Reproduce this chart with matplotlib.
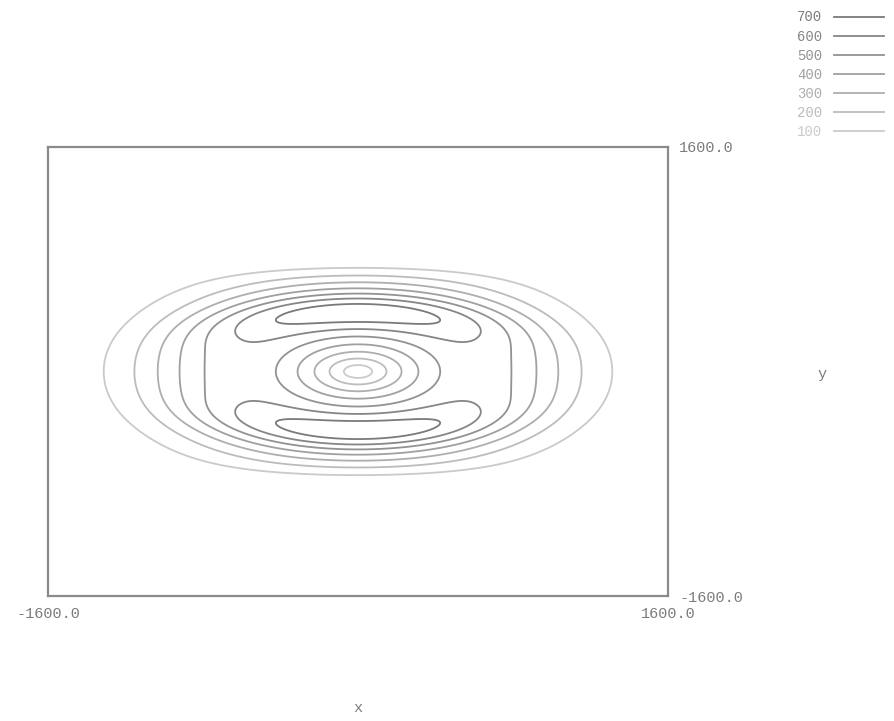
import numpy as np
import matplotlib.pyplot as plt
from matplotlib.lines import Line2D

# niveis de contorno e cores (cinza: 100 mais claro, 700 mais escuro)
niveis = [100, 200, 300, 400, 500, 600, 700]
cores = ['#cacaca', '#bcbcbc', '#aeaeae', '#a0a0a0', '#929292', '#868686', '#7a7a7a']

# limites dos eixos
x_min, x_max = -1600.0, 1600.0
y_min, y_max = -1600.0, 1600.0

# parametros do campo, estimados a partir da figura
pico_anel = 565.0          # valor maximo do anel no eixo x
raio_anel = 604.0          # raio (em x) do maximo do anel
forma_anel = 2.6
achatamento = 1.593        # razao y/x da elipse do anel
ganho_faixa = 0.40         # reforco relativo nas faixas de cima e de baixo
achatamento_faixa = 2.317
raio_faixa = 1024.0
largura_faixa = 297.0
corte_y = 770.0
expoente_corte = 12.0

xs = np.linspace(x_min, x_max, 641)
ys = np.linspace(y_min, y_max, 641)
X, Y = np.meshgrid(xs, ys)

rho = np.sqrt(X ** 2 + (achatamento * Y) ** 2)
u = rho / raio_anel
anel = pico_anel * u * np.exp((1 - u ** forma_anel) / forma_anel)

rho_f = np.sqrt(X ** 2 + (achatamento_faixa * Y) ** 2) + 1e-9
seno2 = (achatamento_faixa * Y / rho_f) ** 2
faixa = 1 + ganho_faixa * seno2 * np.exp(-((rho_f - raio_faixa) / largura_faixa) ** 2)

corte = np.exp(-np.abs(Y / corte_y) ** expoente_corte)
Z = anel * faixa * corte

fonte = 'Liberation Mono'
cor_texto = '#7c7c7c'

fig = plt.figure(figsize=(8.94, 7.21), dpi=100)
ax = fig.add_axes([48 / 894, 125 / 721, 620 / 894, 449 / 721])
ax.contour(X, Y, Z, levels=niveis, colors=cores, linewidths=1.3)
ax.set_xlim(x_min, x_max)
ax.set_ylim(y_min, y_max)

for lado in ax.spines.values():
    lado.set_color('#8a8a8a')
    lado.set_linewidth(1.6)

ax.set_xticks([x_min, x_max])
ax.set_xticklabels([f'{x_min:.1f}', f'{x_max:.1f}'])
ax.yaxis.tick_right()
ax.set_yticks([y_min, y_max])
ax.set_yticklabels([f'{y_min:.1f}', f'{y_max:.1f}'])
ax.tick_params(length=0, labelsize=11, labelcolor=cor_texto, pad=8)
for t in ax.get_xticklabels() + ax.get_yticklabels():
    t.set_fontfamily(fonte)

ax.set_xlabel('x', fontfamily=fonte, fontsize=11, color=cor_texto, va='center')
ax.xaxis.set_label_coords(0.5, -0.249)
ax.yaxis.set_label_position('right')
ax.set_ylabel('y', fontfamily=fonte, fontsize=11, color=cor_texto, rotation=0,
              va='center', ha='center')
ax.yaxis.set_label_coords(1.248, 0.495)

# legenda: texto a esquerda, linha a direita
alcas = [Line2D([0], [0], color=c, lw=1.3) for c in cores[::-1]]
rotulos = [str(n) for n in niveis[::-1]]
leg = fig.legend(alcas, rotulos, loc='upper right', bbox_to_anchor=(1.0, 1.0),
                 frameon=False, markerfirst=False, handlelength=3.6,
                 prop={'family': fonte, 'size': 10}, labelspacing=0.37,
                 borderaxespad=0.35, handletextpad=0.8)
for txt, c in zip(leg.get_texts(), cores[::-1]):
    txt.set_color(c)

fig.savefig('out.png', dpi=100)
